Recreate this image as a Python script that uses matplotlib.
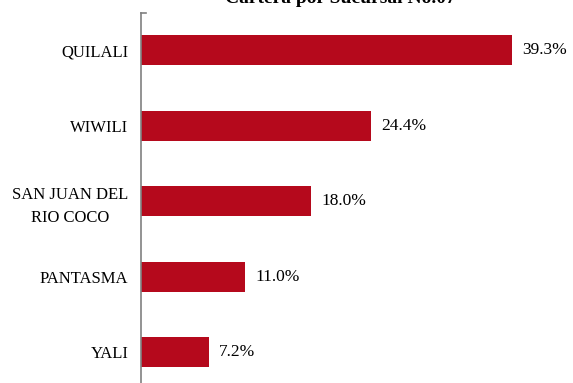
import matplotlib
matplotlib.use("Agg")
import matplotlib.pyplot as plt

# datos
sucursales = ["QUILALI", "WIWILI", "SAN JUAN DEL\nRIO COCO", "PANTASMA", "YALI"]
porcentajes = [39.3, 24.4, 18.0, 11.0, 7.2]
titulo = "Cartera por Sucursal No.07"

plt.rcParams['font.family'] = ['Liberation Serif', 'DejaVu Serif']

W, H = 573, 383
fig = plt.figure(figsize=(W / 100, H / 100), dpi=100)
# eje: x=141px, de y=12.5px hasta y=390px (fuera de la imagen)
ax = fig.add_axes([141 / W, 1 - 390 / H, 1 - 141 / W, (390 - 12.5) / H])

pos = list(range(len(sucursales)))
ax.barh(pos, porcentajes, height=0.4, color="#B5091C")
for p, v in zip(pos, porcentajes):
    ax.text(v + 1.1, p, f"{v:.1f}%", va="center", ha="left", fontsize=12.5)

ax.set_ylim(len(sucursales) - 0.5, -0.5)
ax.set_xlim(0, (W - 141) / 9.44)
ax.set_yticks(pos)
ax.set_yticklabels(sucursales, fontsize=12, linespacing=1.55,
                   ha="right", multialignment="center")
ax.tick_params(axis="y", length=0, pad=9)
ax.set_xticks([])
for s in ["top", "right", "bottom"]:
    ax.spines[s].set_visible(False)
ax.spines["left"].set_color("#808080")
ax.spines["left"].set_linewidth(1.2)
ax.plot([0, 0.5], [-0.5, -0.5], color="#808080", lw=1.2, clip_on=False)

fig.text(340 / W, 1 - 3 / H, titulo, ha="center", va="baseline",
         fontsize=14, fontweight="bold")

fig.savefig("out.png", dpi=100)
